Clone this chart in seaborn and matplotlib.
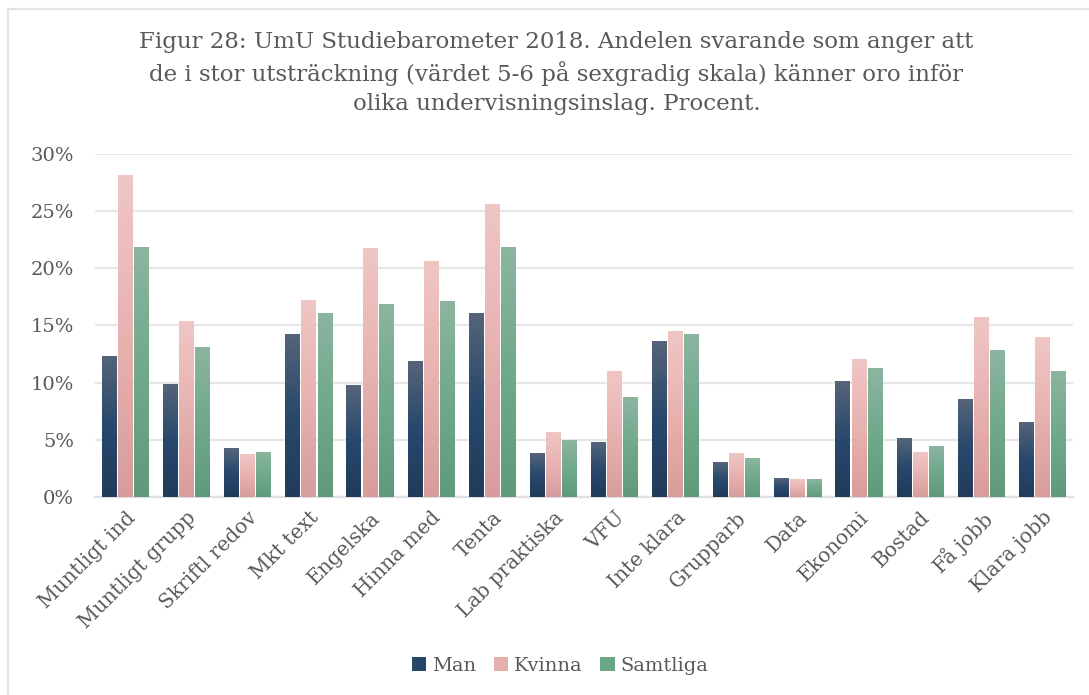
import numpy as np
import pandas as pd
import matplotlib
matplotlib.use("Agg")
import matplotlib.pyplot as plt
import matplotlib.transforms as mtrans
import seaborn as sns
from matplotlib.colors import to_rgb
from matplotlib.patches import Patch, Rectangle

categories = ["Muntligt ind", "Muntligt grupp", "Skriftl redov", "Mkt text", "Engelska",
              "Hinna med", "Tenta", "Lab praktiska", "VFU", "Inte klara", "Grupparb",
              "Data", "Ekonomi", "Bostad", "Få jobb", "Klara jobb"]
man = [12.3, 9.8, 4.2, 14.2, 9.7, 11.8, 16.0, 3.8, 4.8, 13.6, 3.0, 1.6, 10.1, 5.1, 8.5, 6.5]
kvinna = [28.1, 15.3, 3.7, 17.2, 21.7, 20.6, 25.6, 5.6, 11.0, 14.5, 3.8, 1.5, 12.0, 3.9, 15.7, 13.9]
samtliga = [21.8, 13.1, 3.9, 16.0, 16.8, 17.1, 21.8, 4.9, 8.7, 14.2, 3.4, 1.5, 11.2, 4.4, 12.8, 11.0]
groups = ["Man", "Kvinna", "Samtliga"]
yticks = [0, 5, 10, 15, 20, 25, 30]

title = ("Figur 28: UmU Studiebarometer 2018. Andelen svarande som anger att\n"
         "de i stor utsträckning (värdet 5-6 på sexgradig skala) känner oro inför\n"
         "olika undervisningsinslag. Procent.")

# gradient stops (top, middle, bottom) per series
grad = {
    "Man": ["#556479", "#28486c", "#213b5b"],
    "Kvinna": ["#efc6c4", "#e8b2b1", "#d69d9c"],
    "Samtliga": ["#8bb59f", "#70a98c", "#609a7c"],
}
base = {"Man": "#27466a", "Kvinna": "#e6afae", "Samtliga": "#6ca488"}

df = pd.DataFrame({
    "cat": categories * 3,
    "val": man + kvinna + samtliga,
    "grp": [g for g in groups for _ in categories],
})

sns.set_style("white")
plt.rcParams["font.family"] = ["DejaVu Serif"]
txt = "#595959"

fig = plt.figure(figsize=(10.89, 6.95), dpi=100)
ax = fig.add_axes([95 / 1089, 1 - 497 / 695, (1073 - 95) / 1089, (497 - 153.7) / 695])

sns.barplot(data=df, x="cat", y="val", hue="grp", hue_order=groups, order=categories,
            palette=base, width=0.79, gap=0.07, ax=ax, legend=False, saturation=1)

ax.set_ylim(0, 30)
ax.set_xlim(-0.5, len(categories) - 0.5)
xl, yl = ax.get_xlim(), ax.get_ylim()

# gradient fill on each bar
n = 64
for i, p in enumerate(list(ax.patches)):
    g = groups[i // len(categories)]
    c = [np.array(to_rgb(s)) for s in grad[g]]
    rows = []
    for v in np.linspace(0, 1, n):
        if v < 0.5:
            rows.append(c[0] + (c[1] - c[0]) * v / 0.5)
        else:
            rows.append(c[1] + (c[2] - c[1]) * (v - 0.5) / 0.5)
    arr = np.array(rows).reshape(n, 1, 3)
    x0, w, h = p.get_x(), p.get_width(), p.get_height()
    ax.imshow(arr, extent=[x0, x0 + w, 0, h], aspect="auto", zorder=3, interpolation="bilinear")
    p.set_visible(False)

ax.set_xlim(xl)
ax.set_ylim(yl)

ax.set_yticks(yticks)
ax.set_yticklabels([f"{v}%" for v in yticks], fontsize=14, color=txt)
ax.set_xticks(range(len(categories)))
ax.set_xticklabels(categories, rotation=45, ha="right", rotation_mode="anchor",
                   fontsize=14.5, color=txt)
# nudge the rotated labels a little left/down like the original
shift = mtrans.ScaledTranslation(-11 / 100, -6 / 100, fig.dpi_scale_trans)
for lab in ax.get_xticklabels():
    lab.set_transform(lab.get_transform() + shift)
ax.tick_params(axis="both", length=0)
ax.tick_params(axis="x", pad=8)
ax.tick_params(axis="y", pad=15)
ax.set_xlabel("")
ax.set_ylabel("")
ax.grid(axis="y", color="#e6e6e6", lw=1.6, zorder=0)
ax.set_axisbelow(True)
for s in ["top", "right", "left"]:
    ax.spines[s].set_visible(False)
ax.spines["bottom"].set_color("#e0e0e0")
ax.spines["bottom"].set_linewidth(1.6)

fig.text(0.511, 1 - 31 / 695, title, ha="center", va="top", fontsize=16.5,
         color=txt, linespacing=1.42)

handles = [Patch(facecolor=base[g], edgecolor="none", label=g) for g in groups]
fig.legend(handles=handles, loc="center", bbox_to_anchor=(560 / 1089, 1 - 666 / 695),
           ncol=3, frameon=False, fontsize=14, handlelength=0.75, handleheight=0.75,
           handletextpad=0.3, columnspacing=0.9, labelcolor=txt)

# outer chart border
fig.patches.append(Rectangle((8 / 1089, -0.05), 1.1, 1 - 9 / 695 + 0.05,
                             transform=fig.transFigure, fill=False,
                             edgecolor="#e3e3e3", lw=1.5))

fig.savefig("out.png", dpi=100)
